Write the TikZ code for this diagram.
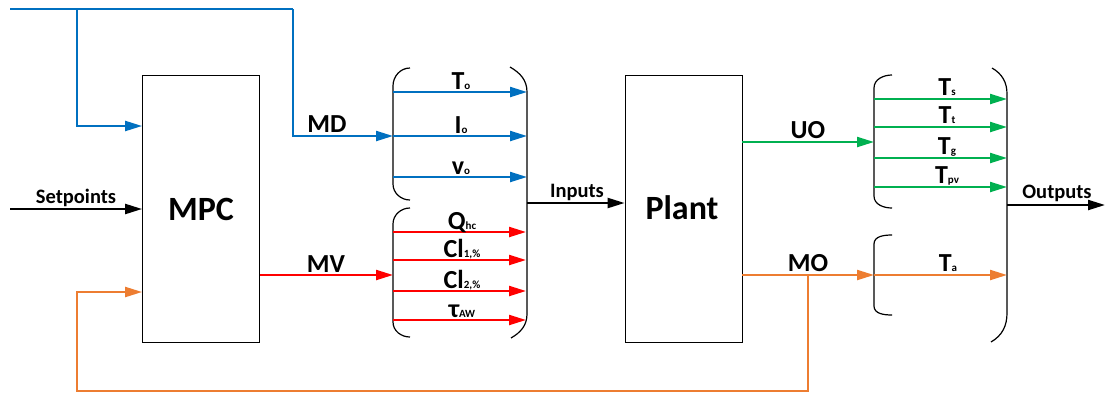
\documentclass[tikz,border=0pt]{standalone}
\usepackage{fontspec}
\setmainfont{Carlito}
\usetikzlibrary{arrows.meta}
\definecolor{cblue}{RGB}{0,112,192}
\definecolor{cred}{RGB}{255,0,0}
\definecolor{cgreen}{RGB}{0,176,80}
\definecolor{corange}{RGB}{237,125,49}
\newcommand\sbs[1]{{\fontsize{11}{11}\selectfont #1}}
\tikzset{
  flow/.style={line width=2.2pt,-{Triangle[length=17pt,width=10pt]}},
  plain/.style={line width=2.2pt},
  blockbox/.style={draw,line width=0.8pt,minimum width=117pt,minimum height=267pt,inner sep=0pt},
  brace/.style={draw,line width=1.2pt},
  big/.style={font=\fontsize{34}{34}\selectfont\bfseries,inner sep=0pt},
  mid/.style={font=\fontsize{26}{26}\selectfont\bfseries,inner sep=0pt},
  sml/.style={font=\fontsize{20.5}{20.5}\selectfont\bfseries,inner sep=0pt},
  lab/.style={font=\fontsize{26}{26}\selectfont\bfseries,inner sep=0pt,anchor=base},
}
\begin{document}
\begin{tikzpicture}[x=1pt,y=-1pt]
\useasboundingbox (0,0) rectangle (1107,394);
% blocks
\node[blockbox] (mpc) at (201,208.5) {};
\node[blockbox] (plant) at (683.5,208.5) {};
\node[big,anchor=base] (mpct) at (201,220) {MPC};
\node[big,anchor=base] (plantt) at (682,219) {Plant};

% brace group coordinates
\coordinate (inL1) at (393,136);
\coordinate (inL2) at (393,275);
\coordinate (inR) at (527,203);
\coordinate (outL1) at (874,142);
\coordinate (outL2) at (874,275);
\coordinate (outR) at (1007,205);

% braces (inputs)
\draw[brace] (410,68) to[out=180,in=90] (393,86) -- (393,184) to[out=-90,in=180] (410,200);
\draw[brace] (410,208) to[out=180,in=90] (393,224) -- (393,322) to[out=-90,in=180] (410,337);
\draw[brace] (510,67) to[out=-30,in=90] (527,92) -- (527,314) to[out=-90,in=30] (511,338);
% braces (outputs)
\draw[brace] (892,75) to[out=180,in=90] (874,88) -- (874,196) to[out=-90,in=180] (892,208);
\draw[brace] (892,235) to[out=180,in=90] (874,244) -- (874,306) to[out=-90,in=180] (892,315);
\draw[brace] (992,68) to[out=-30,in=90] (1007,94) -- (1007,313) to[out=-90,in=30] (991,342);

% MD (blue)
\coordinate (bstart) at (10,9);
\coordinate (bsplit) at (77,9);
\coordinate (bcorner) at (293,9);
\draw[plain,cblue] (bstart) -- (bcorner);
\draw[flow,cblue] (bsplit) |- (mpc.west |- 0,126);
\draw[flow,cblue] (bcorner) |- (inL1);
\node[mid,anchor=base] (mdl) at (327,132) {MD};

% Setpoints
\coordinate (spstart) at (10,209);
\draw[flow,black] (spstart) -- (mpc.west |- spstart);
\node[sml,anchor=base] (spl) at (76,203) {Setpoints};

% MV
\draw[flow,cred] (mpc.east |- inL2) -- (inL2);
\node[mid,anchor=base] (mvl) at (326,272) {MV};

% inner input arrows
\foreach \y/\t/\n in {92/T\sbs{o}/a,136/I\sbs{o}/b,177/v\sbs{o}/c}{
  \coordinate (s\n) at (393,\y);
  \coordinate (e\n) at (527,\y);
  \draw[flow,cblue] (s\n) -- (e\n);
  \node[lab] (l\n) at (461,\y-3) {\t};
}
\foreach \y/\t/\n in {232/Q\sbs{hc}/d,260/Cl\sbs{1,\%}/e,291/Cl\sbs{2,\%}/f,320/τ\sbs{AW}/g}{
  \coordinate (s\n) at (393,\y);
  \coordinate (e\n) at (526,\y);
  \draw[flow,cred] (s\n) -- (e\n);
  \node[lab] (l\n) at (462,\y-3) {\t};
}

% Inputs
\draw[flow,black] (inR) -- (plant.west |- inR);
\node[sml,anchor=base] (inl) at (577,197) {Inputs};

% UO / MO
\draw[flow,cgreen] (plant.east |- outL1) -- (outL1);
\node[mid,anchor=base] (uol) at (808,138) {UO};
\draw[flow,corange] (plant.east |- outL2) -- (outL2);
\node[mid,anchor=base] (mol) at (808,271) {MO};

% output inner arrows
\foreach \y/\t/\n in {99/T\sbs{s}/h,127/T\sbs{t}/i,158/T\sbs{g}/j,187/T\sbs{pv}/k}{
  \coordinate (s\n) at (874,\y);
  \coordinate (e\n) at (1007,\y);
  \draw[flow,cgreen] (s\n) -- (e\n);
  \node[lab] (l\n) at (947,\y-4) {\t};
}
\coordinate (sl) at (874,275);
\coordinate (el) at (1007,275);
\draw[flow,corange] (sl) -- (el);
\node[lab] (ll) at (948,271) {T\sbs{a}};

% Outputs
\coordinate (oend) at (1105,205);
\draw[flow,black] (outR) -- (oend);
\node[sml,anchor=base] (outl) at (1057,198) {Outputs};

% MO feedback
\coordinate (fbtop) at (808,275);
\coordinate (fbbot) at (808,391);
\coordinate (fbleft) at (77,391);
\draw[flow,corange] (fbtop) -- (fbbot) -- (fbleft) |- (mpc.west |- 0,292);
\end{tikzpicture}
\end{document}
